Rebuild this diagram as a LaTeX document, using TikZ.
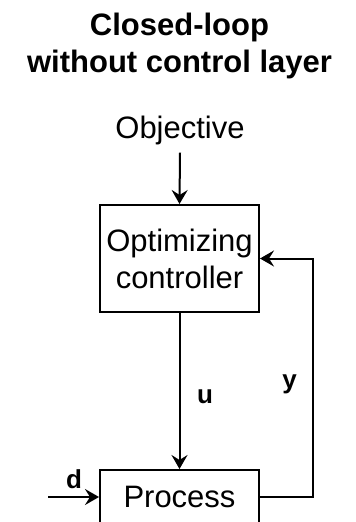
\documentclass[tikz,border=0pt]{standalone}
\usepackage{fontspec}
\setmainfont{Liberation Sans}
\usetikzlibrary{arrows.meta}

\tikzset{
    block/.style = {draw, line width=2pt, minimum width=159pt, inner sep=0pt, align=center,
                    font=\fontsize{31}{37}\selectfont},
    sig/.style   = {font=\bfseries\fontsize{26}{31}\selectfont, inner sep=0pt},
    line/.style  = {line width=2pt}
}

\begin{document}
\begin{tikzpicture}[x=1pt, y=-1pt, >={Stealth[length=14pt,width=16pt,inset=5pt]}]
    \useasboundingbox (0,0) rectangle (356,522);
    \clip (0,0) rectangle (356,522);

    % title and objective
    \node[align=center, inner sep=0pt, font=\bfseries\fontsize{31}{37}\selectfont] (title) at (179.5,45.5) {Closed-loop\\without control layer};
    \node[anchor=base, inner xsep=0pt, inner ysep=8pt, font=\fontsize{31}{37}\selectfont] (objective) at (180,138) {Objective};

    % blocks
    \node[block, minimum height=107pt] (ctrl) at (179.5,258.5) {Optimizing\\controller};
    \node[block, minimum height=54pt]  (proc) at (179.5,497)   {Process};

    \coordinate (din) at (48,497);
    \coordinate (fb) at (313,497);

    % signals
    \draw[->, line] (objective.south) -- (ctrl.north);
    \draw[->, line] (ctrl.south) -- (proc.north);
    \draw[->, line] (din) -- (proc.west);
    \draw[->, line] (proc.east) -- (fb) |- (ctrl.east);

    \node[sig, anchor=base] (ulabel) at (205,403) {u};
    \node[sig, anchor=base] (ylabel) at (289.5,388) {y};
    \node[sig, anchor=base] (dlabel) at (74,488) {d};

\end{tikzpicture}
\end{document}
